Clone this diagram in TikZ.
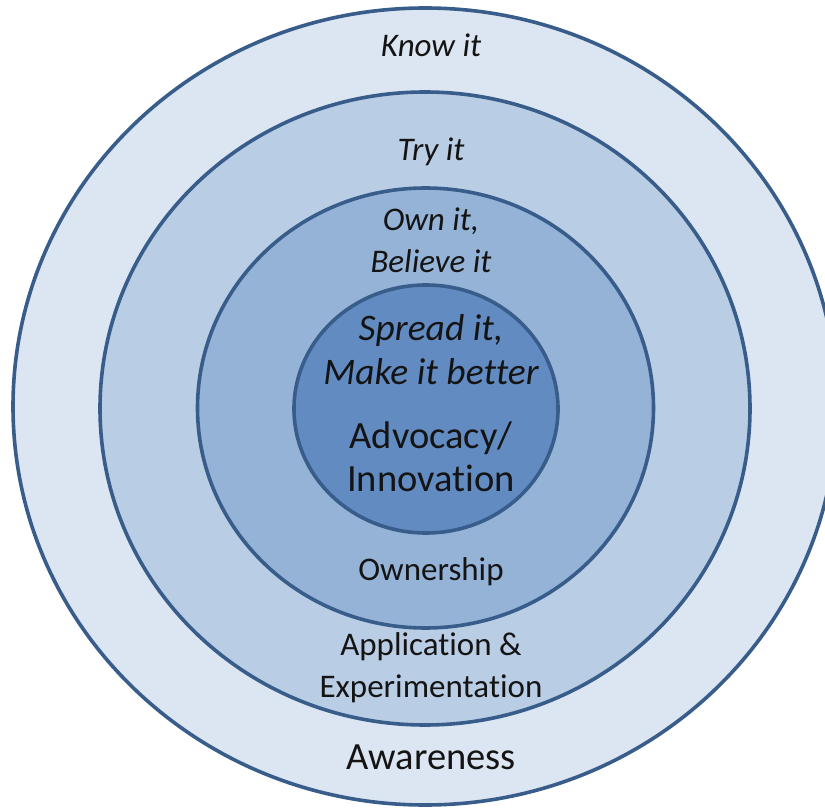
\documentclass[tikz,border=0pt]{standalone}
\usepackage{fontspec}
\setmainfont{Carlito}[RawFeature={-liga;-dlig;-clig;-calt}]
\definecolor{ringA}{HTML}{DCE6F2}
\definecolor{ringB}{HTML}{B9CDE5}
\definecolor{ringC}{HTML}{95B3D7}
\definecolor{ringD}{HTML}{628BC2}
\definecolor{ringline}{HTML}{385D8A}
\definecolor{txt}{HTML}{141414}
\tikzset{
  ring/.style={draw=ringline, line width=3.6pt},
  lbl/.style={text=txt, align=center, inner sep=0pt},
  small/.style={lbl, font=\fontsize{33}{42}\selectfont},
  smallit/.style={lbl, font=\fontsize{33}{42}\selectfont\itshape},
  big/.style={lbl, font=\fontsize{38.5}{43}\selectfont},
  bigit/.style={lbl, font=\fontsize{37.5}{44}\selectfont\itshape},
}
\begin{document}
\begin{tikzpicture}[x=1pt,y=-1pt]
\clip (0,0) rectangle (825,810);
\fill[white] (0,0) rectangle (825,810);
\draw[ring, fill=ringA] (425,406.5) ellipse [x radius=412, y radius=398.5];
\draw[ring, fill=ringB] (425,408.5) ellipse [x radius=325, y radius=316.5];
\draw[ring, fill=ringC] (425.5,408) ellipse [x radius=228, y radius=220];
\draw[ring, fill=ringD] (426,409) ellipse [x radius=132, y radius=124];
\node[smallit] (know) at (431,45) {Know it};
\node[smallit] (try) at (431,152) {Try it};
\node[smallit] (own) at (431,240) {Own it,\\Believe it};
\node[bigit] (spread) at (431,350) {Spread it,\\Make it better};
\node[big] (adv) at (431,457) {Advocacy/\\Innova\kern0pt tion};
\node[small] (ownership) at (431,572) {Ownership};
\node[small] (app) at (431,668) {Application \&\\Experimenta\kern0pt tion};
\node[big] (aware) at (431,757) {Awareness};
\end{tikzpicture}
\end{document}
